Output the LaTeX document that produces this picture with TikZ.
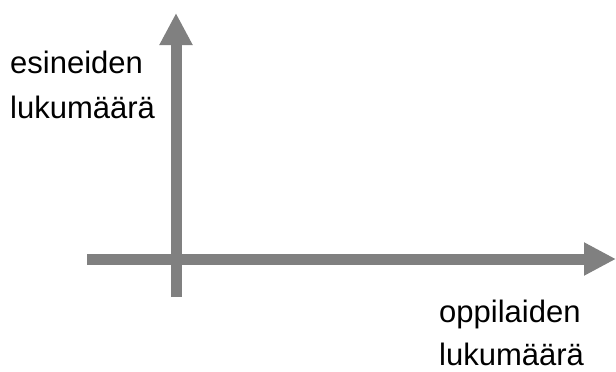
\documentclass[tikz,border=0pt]{standalone}
\usepackage{fontspec}
\setmainfont{Liberation Sans}
\usetikzlibrary{arrows.meta}
\definecolor{axisgray}{HTML}{808080}
\tikzset{
  axisline/.style={draw=axisgray, line width=11pt, -{Triangle[length=32pt,width=31pt]}},
  lbl/.style={anchor=base west, inner sep=0pt, font=\fontsize{31pt}{36pt}\selectfont, text=black}
}
\begin{document}
\begin{tikzpicture}[x=1pt,y=-1pt]
\useasboundingbox[fill=white] (0,0) rectangle (616,372);
\coordinate (ybot) at (176,297);
\coordinate (ytop) at (176,13);
\coordinate (xleft) at (87,259);
\coordinate (xright) at (616,259);
\draw[axisline] (xleft) -- (xright);
\draw[axisline] (ybot) -- (ytop);
\node[lbl] (yl1) at (10,73) {esineiden};
\node[lbl] (yl2) at (10,118) {lukumäärä};
\node[lbl] (xl1) at (439,322) {oppilaiden};
\node[lbl] (xl2) at (439,365) {lukumäärä};
\end{tikzpicture}
\end{document}
